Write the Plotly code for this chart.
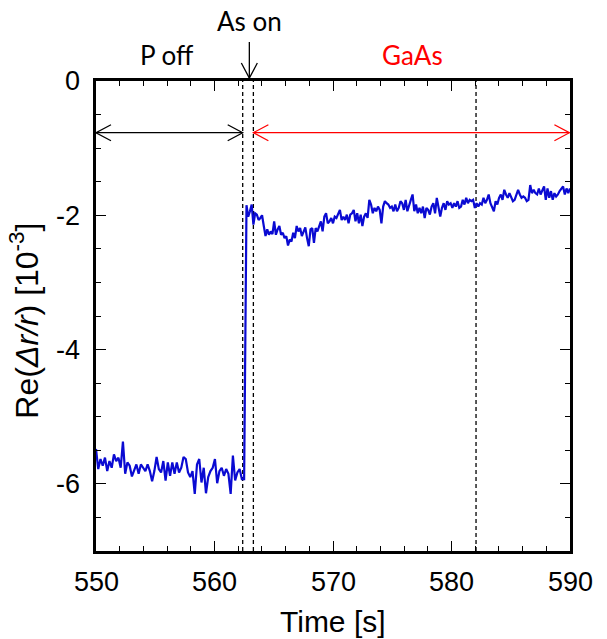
import numpy as np
import plotly.graph_objects as go

# ---------------- data ----------------
# Segment before As on (P off), 550 s -> ~562.5 s
pre_start, pre_end = 550.0, 562.5
pre_values = [-5.48, -5.78, -5.63, -5.73, -5.61, -5.81, -5.66, -5.76, -5.56, -5.66,
              -5.61, -5.76, -5.37, -5.85, -5.68, -5.73, -5.89, -5.81, -5.71, -5.85,
              -5.71, -5.76, -5.81, -5.71, -5.81, -5.96, -5.81, -5.60, -5.78, -5.83,
              -5.66, -5.95, -5.68, -5.88, -5.68, -5.85, -5.68, -5.83, -5.76, -5.60,
              -5.63, -5.83, -5.90, -5.81, -6.15, -5.71, -5.63, -5.98, -5.76, -6.14,
              -5.90, -5.81, -5.76, -5.63, -5.99, -5.81, -5.76, -5.88, -5.78, -5.85,
              -6.15, -5.58, -5.95, -5.83, -5.78, -5.93, -5.93]

# Segment after the jump (GaAs growth), ~562.7 s -> 590 s
post_start, post_end = 562.7, 590.0
post_values = [-1.85, -2.02, -1.94, -1.84, -2.14, -1.97, -1.99, -2.07, -2.04, -2.00,
               -2.16, -2.31, -2.21, -2.29, -2.24, -2.28, -2.09, -2.29, -2.21, -2.16,
               -2.29, -2.26, -2.34, -2.31, -2.45, -2.36, -2.39, -2.26, -2.34, -2.16,
               -2.24, -2.19, -2.31, -2.24, -2.18, -2.34, -2.46, -2.21, -2.19, -2.41,
               -2.19, -2.24, -2.16, -2.09, -2.24, -2.02, -1.97, -2.12, -2.09, -2.04,
               -2.12, -2.02, -2.04, -1.99, -1.92, -2.07, -2.02, -2.07, -1.99, -2.12,
               -1.99, -1.97, -1.92, -2.09, -1.97, -2.12, -1.99, -2.16, -2.02, -1.97,
               -2.04, -1.77, -1.84, -1.97, -1.89, -1.94, -1.87, -1.92, -2.12, -1.87,
               -1.79, -1.82, -1.84, -1.89, -1.87, -1.94, -1.84, -1.94, -1.89, -1.79,
               -1.82, -1.92,
               -1.77, -1.94, -1.87, -1.77, -1.69, -1.94, -1.84, -1.97, -1.89, -1.97,
               -1.87, -2.04, -1.89, -1.92, -1.99, -1.87, -1.82, -1.97, -1.74, -1.87,
               -2.02, -1.89, -1.82, -1.92, -1.79, -1.84, -1.82, -1.89, -1.82, -1.87,
               -1.79, -1.89, -1.87, -1.77, -1.84, -1.74, -1.82, -1.77, -1.79, -1.77,
               -1.89, -1.82, -1.87, -1.82, -1.84, -1.74, -1.82, -1.77, -1.69, -1.82,
               -1.87, -1.94, -1.79, -1.84, -1.74, -1.69, -1.77, -1.62, -1.69, -1.74,
               -1.67, -1.72, -1.79, -1.77, -1.69, -1.62, -1.69, -1.74, -1.72, -1.74,
               -1.79, -1.77, -1.55, -1.67, -1.62, -1.67, -1.69, -1.60, -1.69, -1.64,
               -1.57, -1.77, -1.60, -1.74, -1.64, -1.77, -1.67, -1.72, -1.69, -1.64,
               -1.60, -1.57, -1.69, -1.60, -1.67, -1.60]

# event markers (s)
dashed_times = [562.38, 563.28, 582.07]
as_on_time = 562.94
p_off_range = [550.0, 562.38]
gaas_range = [563.28, 589.95]
arrow_level = -0.77

x_ticks = [550, 560, 570, 580, 590]
x_ticktext = ["550", "560", "570", "580", "590"]
y_ticks = [0, -2, -4, -6]
y_ticktext = ["0", "-2", "-4", "-6"]

# ---------------- figure ----------------
t = np.concatenate([np.linspace(pre_start, pre_end, len(pre_values)),
                    np.linspace(post_start, post_end, len(post_values))])
v = np.array(pre_values + post_values)

fig = go.Figure()
fig.add_trace(go.Scatter(x=t, y=v, mode="lines",
                         line=dict(color="#0a0ad2", width=2.2),
                         showlegend=False, hoverinfo="skip"))

shapes = []
for xd in dashed_times:
    shapes.append(dict(type="line", xref="x", yref="paper", x0=xd, x1=xd, y0=0, y1=1,
                       line=dict(color="black", width=1.3, dash="4px,3px"), layer="below"))

def double_arrow(x0, x1, y, color):
    out = [dict(type="line", xref="x", yref="y", x0=x0, x1=x1, y0=y, y1=y,
                line=dict(color=color, width=1.3))]
    out.append(dict(type="path", xref="x", yref="y", xsizemode="pixel", ysizemode="pixel",
                    xanchor=x0, yanchor=y, path="M 15,8 L 0,0 L 15,-8",
                    line=dict(color=color, width=1.3)))
    out.append(dict(type="path", xref="x", yref="y", xsizemode="pixel", ysizemode="pixel",
                    xanchor=x1, yanchor=y, path="M -15,8 L 0,0 L -15,-8",
                    line=dict(color=color, width=1.3)))
    return out

shapes += double_arrow(p_off_range[0], p_off_range[1], arrow_level, "black")
shapes += double_arrow(gaas_range[0], gaas_range[1], arrow_level, "red")

# As on arrow (above plot)
shapes.append(dict(type="path", xref="x", yref="paper", xsizemode="pixel", ysizemode="pixel",
                   xanchor=as_on_time, yanchor=1, path="M 0,39 L 0,3",
                   line=dict(color="black", width=1.3)))
shapes.append(dict(type="path", xref="x", yref="paper", xsizemode="pixel", ysizemode="pixel",
                   xanchor=as_on_time, yanchor=1, path="M -8,18 L 0,3 L 8,18",
                   line=dict(color="black", width=1.3)))

label_font = "Lato, 'Open Sans', sans-serif"
axis_font = dict(family="'Liberation Sans', Arial, sans-serif", size=27, color="black")
xtitle_font = dict(family="'Liberation Sans', Arial, sans-serif", size=30, color="black")
ytitle_font = dict(family="'Liberation Sans', Arial, sans-serif", size=32, color="black")

annotations = [
    dict(text="P off", xref="x", yref="paper", x=556.0, y=1.055, showarrow=False,
         font=dict(family=label_font, size=26, color="black"), xanchor="center", yanchor="middle"),
    dict(text="As on", xref="x", yref="paper", x=as_on_time, y=1.128, showarrow=False,
         font=dict(family=label_font, size=26, color="black"), xanchor="center", yanchor="middle"),
    dict(text="GaAs", xref="x", yref="paper", x=576.7, y=1.055, showarrow=False,
         font=dict(family=label_font, size=26, color="red"), xanchor="center", yanchor="middle"),
    # axis titles
    dict(text="Time [s]", xref="paper", yref="paper", x=0.5, y=-0.149, showarrow=False,
         font=xtitle_font, xanchor="center", yanchor="middle"),
    dict(text="Re(<i>Δr/r</i>) [10<sup>-3</sup>]", xref="paper", yref="paper",
         x=-0.152, y=0.49, showarrow=False, textangle=-90,
         font=ytitle_font, xanchor="center", yanchor="middle"),
]
# x tick labels placed under the axis on the x scale
for xv, xt in zip(x_ticks, x_ticktext):
    annotations.append(dict(text=xt, xref="x", yref="paper", x=xv, y=0, yshift=-14,
                            showarrow=False, font=axis_font, xanchor="center", yanchor="top"))

fig.update_layout(
    width=599, height=631,
    margin=dict(l=88, r=37, t=73, b=88),
    paper_bgcolor="white", plot_bgcolor="white",
    shapes=shapes, annotations=annotations,
    xaxis=dict(range=[550, 590], tickvals=x_ticks, ticks="inside", ticklen=10, tickwidth=1,
               tickcolor="black", showline=True, linewidth=3, linecolor="black",
               mirror="allticks", showgrid=False, zeroline=False, showticklabels=False,
               automargin=False,
               minor=dict(dtick=2, ticks="inside", ticklen=5, tickwidth=1, tickcolor="black")),
    yaxis=dict(range=[-7, 0], tickvals=y_ticks, ticktext=[s + "\u00a0" for s in y_ticktext],
               ticks="inside",
               ticklen=10, tickwidth=1, tickcolor="black", showline=True, linewidth=3,
               linecolor="black", mirror="allticks", showgrid=False, zeroline=False,
               tickfont=axis_font, automargin=False,
               minor=dict(dtick=0.5, ticks="inside", ticklen=5, tickwidth=1, tickcolor="black")),
)

fig.write_html("out.html")
